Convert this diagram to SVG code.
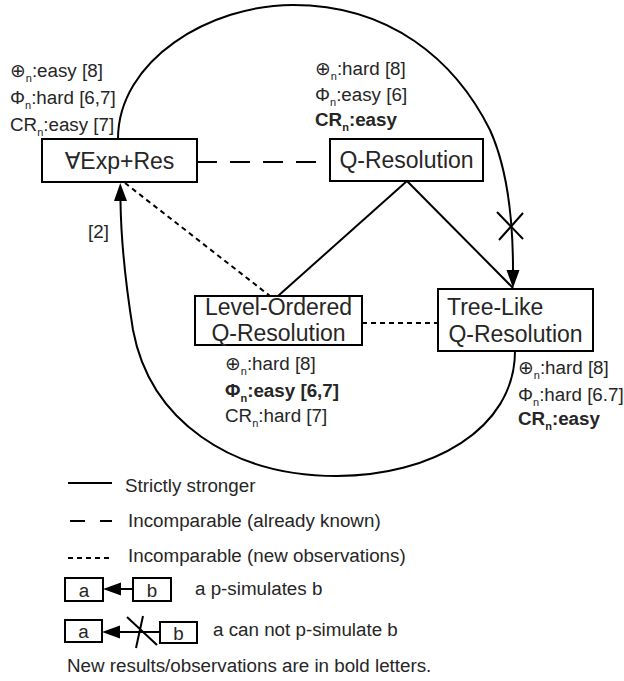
<svg xmlns="http://www.w3.org/2000/svg" width="624" height="681" viewBox="0 0 624 681">
<style>
text{font-family:"Liberation Sans","DejaVu Sans",Arial,sans-serif;fill:#262626}
.node rect{fill:#fff;stroke:#000;stroke-width:2}
.nt{font-size:23px}
.lb{font-size:18.8px}
.b{font-weight:bold}
.sub{font-size:11px}
.c{fill:none;stroke:#000;stroke-width:2}
.dash{stroke-dasharray:20 13}
.dot{stroke-dasharray:5 4}
.lg rect{fill:#fff;stroke:#000;stroke-width:2}
</style>
<defs>
<marker id="ah" markerUnits="userSpaceOnUse" markerWidth="20" markerHeight="14" viewBox="0 -7 20 14" refX="0" refY="0" orient="auto" overflow="visible">
<path d="M0,-6.5 L18,0 L0,6.5 z" fill="#000"/>
</marker>
</defs>

<g id="connectors">
<path class="c dash" d="M197,162 L330,162"/>
<path class="c" d="M407,181 L278,296"/>
<path class="c" d="M407,181 L513,288"/>
<path class="c dot" d="M125,183 L270,296"/>
<path class="c dot" d="M362,323 L438,323"/>
<path class="c" d="M118,139 C118,60 210,5 293,5 C390,5 455,60 490,130 C508,170 513,220 513,270" marker-end="url(#ah)"/>
<path class="c" d="M497,212 L523,239 M523,213 L499,240"/>
<path class="c" d="M515,351 C515,430 430,476 337,476 C230,476 150,420 133,330 C125,280 121,240 120.5,201" marker-end="url(#ah)"/>
<text class="lb" x="88" y="238">[2]</text>
</g>

<g id="n-expres" class="node">
<rect x="42" y="139" width="155" height="43"/>
<text class="nt" x="119.5" y="169" text-anchor="middle">∀Exp+Res</text>
<text class="lb" x="10" y="77">⊕<tspan class="sub" dy="5">n</tspan><tspan dy="-5">:easy [8]</tspan></text>
<text class="lb" x="10" y="104">Φ<tspan class="sub" dy="5">n</tspan><tspan dy="-5">:hard [6,7]</tspan></text>
<text class="lb" x="10" y="131">CR<tspan class="sub" dy="5">n</tspan><tspan dy="-5">:easy [7]</tspan></text>
</g>

<g id="n-qres" class="node">
<rect x="330" y="139" width="153" height="42"/>
<text class="nt" x="406.5" y="168" text-anchor="middle">Q-Resolution</text>
<text class="lb" x="315" y="75">⊕<tspan class="sub" dy="5">n</tspan><tspan dy="-5">:hard [8]</tspan></text>
<text class="lb" x="315" y="101">Φ<tspan class="sub" dy="5">n</tspan><tspan dy="-5">:easy [6]</tspan></text>
<text class="lb b" x="315" y="126">CR<tspan class="sub" dy="5">n</tspan><tspan dy="-5">:easy</tspan></text>
</g>

<g id="n-level" class="node">
<rect x="195" y="296" width="167" height="49"/>
<text class="nt" x="278.5" y="315" text-anchor="middle">Level-Ordered</text>
<text class="nt" x="278.5" y="341" text-anchor="middle">Q-Resolution</text>
<text class="lb" x="225" y="370">⊕<tspan class="sub" dy="5">n</tspan><tspan dy="-5">:hard [8]</tspan></text>
<text class="lb b" x="225" y="397">Φ<tspan class="sub" dy="5">n</tspan><tspan dy="-5">:easy [6,7]</tspan></text>
<text class="lb" x="225" y="422">CR<tspan class="sub" dy="5">n</tspan><tspan dy="-5">:hard [7]</tspan></text>
</g>

<g id="n-tree" class="node">
<rect x="438" y="289" width="155" height="62"/>
<text class="nt" x="447" y="315">Tree-Like</text>
<text class="nt" x="515.5" y="342" text-anchor="middle">Q-Resolution</text>
<text class="lb" x="518" y="374">⊕<tspan class="sub" dy="5">n</tspan><tspan dy="-5">:hard [8]</tspan></text>
<text class="lb" x="518" y="401">Φ<tspan class="sub" dy="5">n</tspan><tspan dy="-5">:hard [6.7]</tspan></text>
<text class="lb b" x="518" y="425">CR<tspan class="sub" dy="5">n</tspan><tspan dy="-5">:easy</tspan></text>
</g>

<g id="legend" class="lg">
<path class="c" d="M68,483 L112,483"/>
<text class="lb" x="125" y="492">Strictly stronger</text>
<path class="c" d="M70,521 L85,521 M100,521 L112,521"/>
<text class="lb" x="128" y="527">Incomparable (already known)</text>
<path class="c dot" d="M68,558 L112,558"/>
<text class="lb" x="128" y="562">Incomparable (new observations)</text>

<rect x="65" y="578" width="38" height="23"/>
<text class="lb" x="84" y="597" text-anchor="middle">a</text>
<rect x="133" y="578" width="38" height="23"/>
<text class="lb" x="152" y="597" text-anchor="middle">b</text>
<path class="c" d="M133,589 L121,589" marker-end="url(#ah)"/>
<text class="lb" x="195" y="595">a p-simulates b</text>

<rect x="65" y="620" width="37" height="22"/>
<text class="lb" x="83.5" y="638" text-anchor="middle">a</text>
<rect x="160" y="622" width="37" height="21"/>
<text class="lb" x="178.5" y="640" text-anchor="middle">b</text>
<path class="c" d="M160,632 L120,632" marker-end="url(#ah)"/>
<path class="c" d="M127,617 L157,645 M136,648 L143,616"/>
<text class="lb" x="213" y="636">a can not p-simulate b</text>

<text class="lb" x="67" y="672">New results/observations are in bold letters.</text>
</g>
</svg>
